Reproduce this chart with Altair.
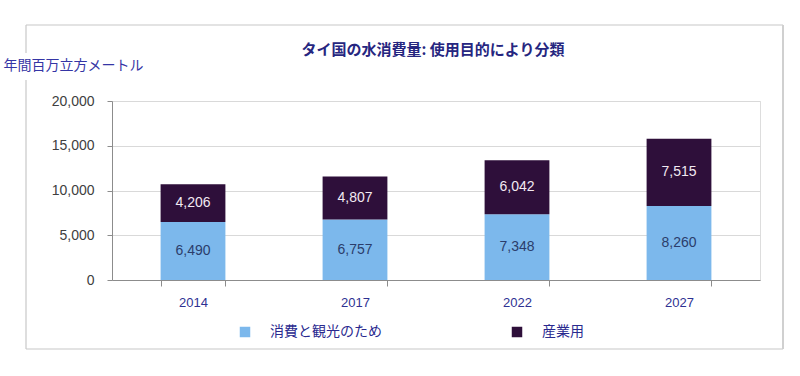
import altair as alt
import pandas as pd

years = ["2014", "2017", "2022", "2027"]
consumer = [6490, 6757, 7348, 8260]
industry = [4206, 4807, 6042, 7515]
series = ["消費と観光のため", "産業用"]
colors = ["#7cb8ec", "#2e0f3a"]
text_colors = ["#2b3d6b", "#f2e9f2"]
title_text = "タイ国の水消費量: 使用目的により分類"

rows = []
for i, y in enumerate(years):
    rows.append({"year": y, "series": series[0], "value": consumer[i], "order": 0,
                 "mid": consumer[i] / 2, "tcolor": text_colors[0]})
    rows.append({"year": y, "series": series[1], "value": industry[i], "order": 1,
                 "mid": consumer[i] + industry[i] / 2, "tcolor": text_colors[1]})
df = pd.DataFrame(rows)

JP = "Noto Sans CJK JP"
LAT = "Liberation Sans"

x_enc = alt.X("year:N", sort=years,
              scale=alt.Scale(paddingInner=0.6, paddingOuter=0.3),
              axis=alt.Axis(title=None, labelAngle=0, tickBand="extent", tickSize=6,
                            labelPadding=10, labelFontSize=13, labelFont=LAT,
                            labelColor="#2e3192", domainColor="#8c8c8c",
                            tickColor="#8c8c8c", grid=False))

bars = alt.Chart(df).mark_bar().encode(
    x=x_enc,
    y=alt.Y("value:Q", stack="zero",
            scale=alt.Scale(domain=[0, 20000]),
            axis=alt.Axis(values=[0, 5000, 10000, 15000, 20000], format=",d",
                          title="年間百万立方メートル", titleAngle=0, titleAlign="left",
                          titleBaseline="middle", titleX=-109, titleY=-36,
                          titleFont=JP, titleFontSize=14, titleFontWeight="normal",
                          titleColor="#3535a5", labelFont=LAT, labelFontSize=14,
                          labelColor="#404040", labelPadding=13, tickSize=5,
                          tickColor="#8c8c8c", domainColor="#8c8c8c",
                          gridColor="#d9d9d9")),
    color=alt.Color("series:N", sort=series,
                    scale=alt.Scale(domain=series, range=colors),
                    legend=alt.Legend(title=None, orient="none", legendX=126, legendY=224,
                                      direction="horizontal", columns=2,
                                      columnPadding=128, symbolType="square",
                                      symbolSize=110, symbolStrokeWidth=0,
                                      labelOffset=18, labelFont=JP, labelFontSize=14,
                                      labelColor="#2a2a8f")),
    order=alt.Order("order:Q"),
)

labels = alt.Chart(df).mark_text(font=LAT, fontSize=14).encode(
    x=alt.X("year:N", sort=years),
    y=alt.Y("mid:Q"),
    text=alt.Text("value:Q", format=",d"),
    color=alt.Color("tcolor:N", scale=None),
)

one = pd.DataFrame({"k": [0]})
title = alt.Chart(one).mark_text(font=JP, fontSize=15, fontWeight="bold",
                                 color="#262680", align="center",
                                 baseline="middle").encode(
    x=alt.value(321), y=alt.value(-51), text=alt.value(title_text))

FR = "#c8c8c8"
frame = [
    alt.Chart(one).mark_rule(color=FR, strokeWidth=1.2).encode(
        x=alt.value(-86), x2=alt.value(671), y=alt.value(-76)),
    alt.Chart(one).mark_rule(color=FR, strokeWidth=1.2).encode(
        x=alt.value(-86), x2=alt.value(671), y=alt.value(248)),
    alt.Chart(one).mark_rule(color="#d0d0d0", strokeWidth=2).encode(
        x=alt.value(671), y=alt.value(-76), y2=alt.value(248)),
    alt.Chart(one).mark_rule(color=FR, strokeWidth=1.2).encode(
        x=alt.value(-86), y=alt.value(-76), y2=alt.value(-48)),
    alt.Chart(one).mark_rule(color=FR, strokeWidth=1.2).encode(
        x=alt.value(-86), y=alt.value(-21), y2=alt.value(248)),
]

chart = alt.layer(*frame, title, bars, labels).properties(
    width=648, height=179,
    padding={"left": 112, "top": 101, "right": 40, "bottom": 96},
    autosize=alt.AutoSizeParams(type="none"),
).configure_view(stroke=None).configure(background="white")

chart.save("out.html", embed_options={"renderer": "svg", "actions": False})
